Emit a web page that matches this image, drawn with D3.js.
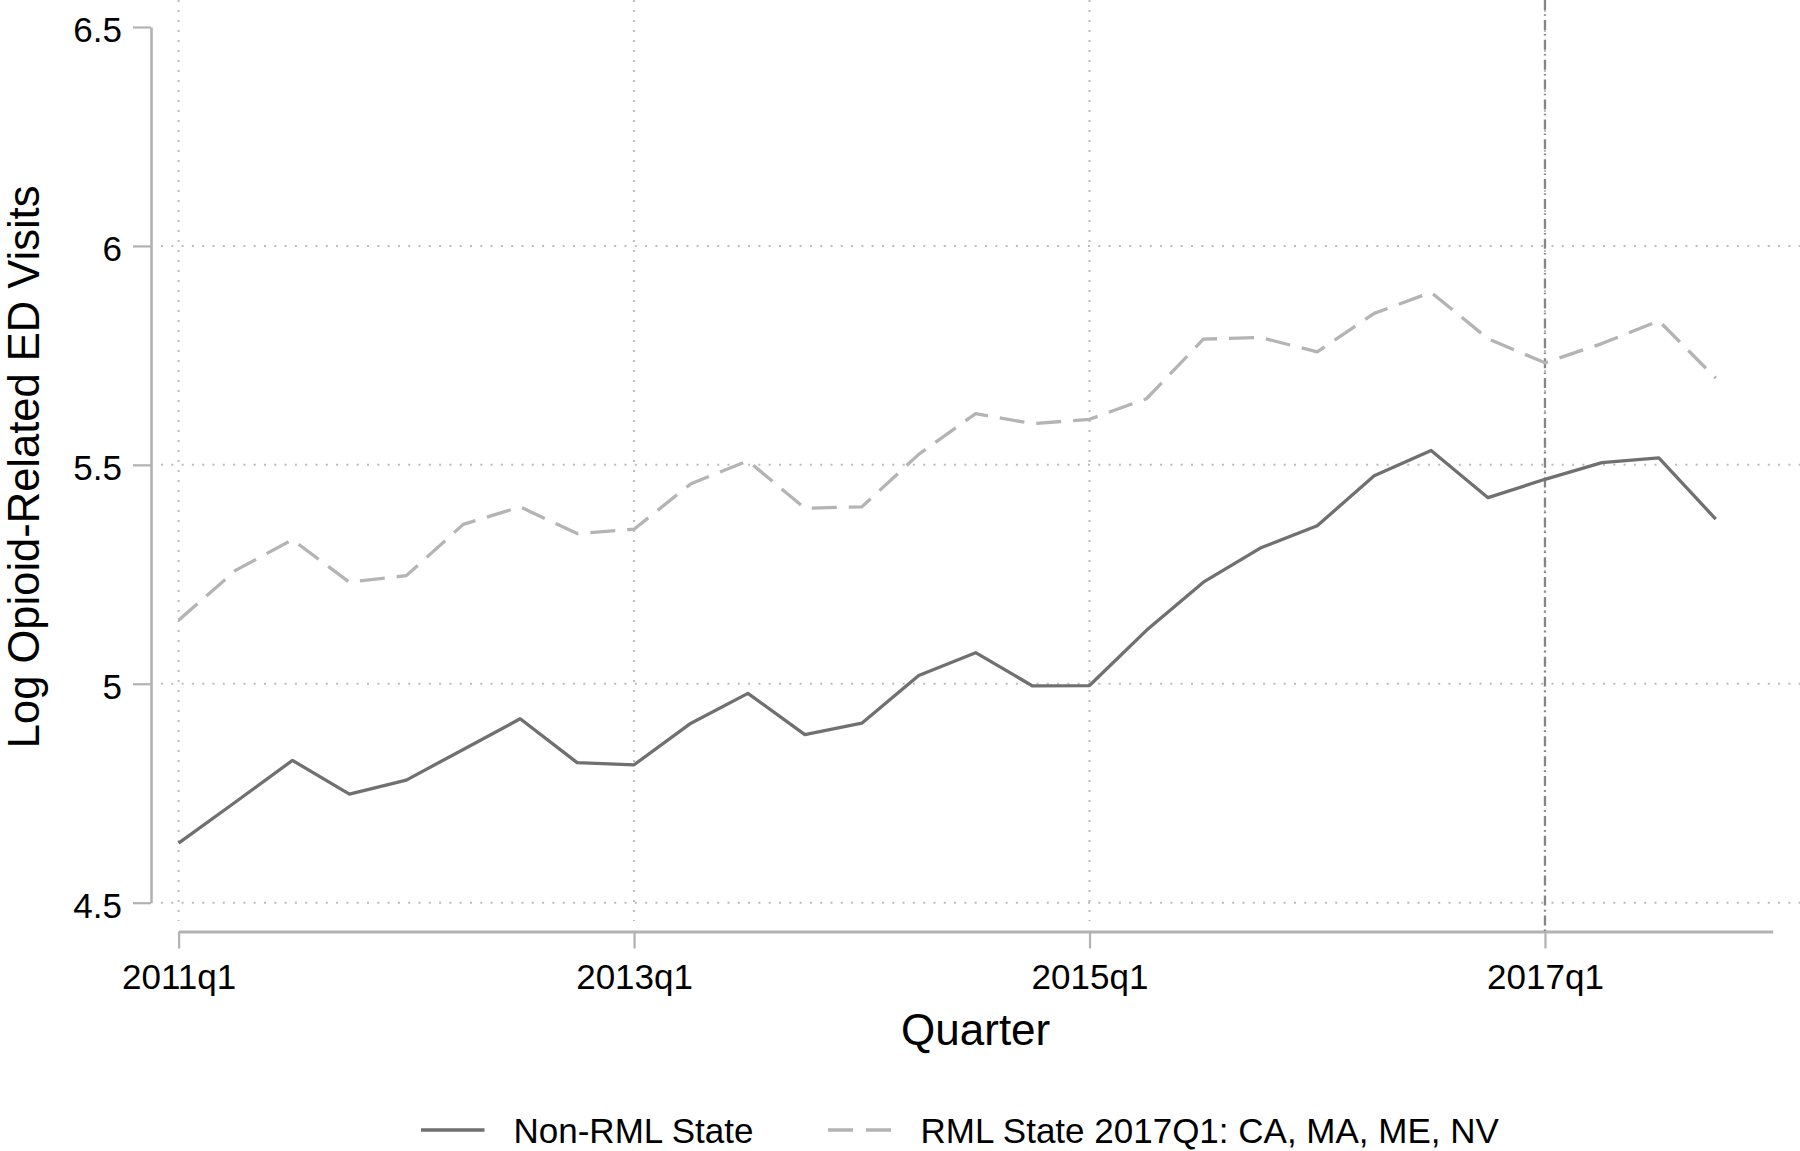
<!DOCTYPE html>
<html>
<head>
<meta charset="utf-8">
<script src="https://cdn.jsdelivr.net/npm/d3@7"></script>
<style>
  html, body { margin: 0; padding: 0; background: #fff; }
  svg { display: block; font-family: "Liberation Sans", Arial, Helvetica, sans-serif; }
</style>
</head>
<body>
<svg id="chart" width="1800" height="1151"></svg>
<script>
// ---- data ----
const quarters = [
  "2011q1","2011q2","2011q3","2011q4","2012q1","2012q2","2012q3","2012q4",
  "2013q1","2013q2","2013q3","2013q4","2014q1","2014q2","2014q3","2014q4",
  "2015q1","2015q2","2015q3","2015q4","2016q1","2016q2","2016q3","2016q4",
  "2017q1","2017q2","2017q3","2017q4","2018q1"
];
const nonRML = [4.636, 4.730, 4.825, 4.748, 4.780, 4.850, 4.920, 4.820,
                4.815, 4.910, 4.978, 4.884, 4.910, 5.019, 5.071, 4.995,
                4.996, 5.122, 5.232, 5.310, 5.361, 5.475, 5.533, 5.425,
                5.467, 5.505, 5.516, 5.376];
const rml2017 = [5.145, 5.259, 5.329, 5.232, 5.247, 5.364, 5.404, 5.343,
                 5.353, 5.457, 5.509, 5.401, 5.404, 5.524, 5.617, 5.594,
                 5.604, 5.651, 5.787, 5.791, 5.758, 5.846, 5.894, 5.788,
                 5.733, 5.777, 5.829, 5.698];
const xTicks = ["2011q1","2013q1","2015q1","2017q1"];
const yTicks = [4.5, 5, 5.5, 6, 6.5];
const yGrid = [4.5, 5, 5.5, 6];
const treatQuarter = "2017q1";
const seriesNames = ["Non-RML State", "RML State 2017Q1: CA, MA, ME, NV"];

// ---- layout ----
const svg = d3.select("#chart");
const axisX0 = 178.6, axisX1 = 1772.7;
const axisYTop = 27, axisYBot = 902.7;
const yAxisX = 151, xAxisY = 931.5;

const x = d3.scalePoint().domain(quarters).range([axisX0, axisX1]).padding(0);
const y = d3.scaleLinear().domain([4.5, 6.5]).range([axisYBot, axisYTop]);

const gridColor = "#bcbcbc";
const axisColor = "#b2b2b2";

// gridlines
svg.append("g").selectAll("line").data(yGrid).join("line")
  .attr("x1", 161).attr("x2", 1800)
  .attr("y1", d => y(d)).attr("y2", d => y(d))
  .attr("stroke", gridColor).attr("stroke-width", 2)
  .attr("stroke-dasharray", "2,8.3");
svg.append("g").selectAll("line").data(xTicks).join("line")
  .attr("x1", d => x(d)).attr("x2", d => x(d))
  .attr("y1", 0).attr("y2", 921)
  .attr("stroke", gridColor).attr("stroke-width", 2)
  .attr("stroke-dasharray", "2,8");

// axes
const yAxis = d3.axisLeft(y).tickValues(yTicks).tickFormat(d3.format("")).tickSizeInner(18).tickSizeOuter(0).tickPadding(11);
const gy = svg.append("g").attr("transform", `translate(${yAxisX},0)`).call(yAxis);
gy.select(".domain").attr("stroke", axisColor).attr("stroke-width", 2.6);
gy.selectAll(".tick line").attr("stroke", axisColor).attr("stroke-width", 2.2);
gy.selectAll(".tick text").attr("font-size", 35).attr("fill", "#000")
  .attr("font-family", "'Liberation Sans', Arial, sans-serif").attr("dy", "0.42em");

const xAxis = d3.axisBottom(x).tickValues(xTicks).tickSizeInner(17).tickSizeOuter(0).tickPadding(15.5);
const gx = svg.append("g").attr("transform", `translate(0,${xAxisY})`).call(xAxis);
gx.select(".domain").attr("stroke", axisColor).attr("stroke-width", 2.8);
gx.selectAll(".tick line").attr("stroke", axisColor).attr("stroke-width", 2.2);
gx.selectAll(".tick text").attr("font-size", 35).attr("fill", "#000")
  .attr("font-family", "'Liberation Sans', Arial, sans-serif");

// treatment line
svg.append("line")
  .attr("x1", x(treatQuarter)).attr("x2", x(treatQuarter))
  .attr("y1", 0).attr("y2", xAxisY)
  .attr("stroke", "#858585").attr("stroke-width", 2.3)
  .attr("stroke-dasharray", "10,4.2,1.5,4.2");

// series
const line = d3.line().x((d, i) => x(quarters[i])).y(d => y(d));
svg.append("path").datum(rml2017).attr("d", line)
  .attr("fill", "none").attr("stroke", "#b4b4b4").attr("stroke-width", 3.3)
  .attr("stroke-dasharray", "25,12").attr("stroke-linejoin", "round");
svg.append("path").datum(nonRML).attr("d", line)
  .attr("fill", "none").attr("stroke", "#707070").attr("stroke-width", 3.3)
  .attr("stroke-linejoin", "round");

// axis titles
svg.append("text")
  .attr("x", (axisX0 + axisX1) / 2).attr("y", 1045)
  .attr("text-anchor", "middle").attr("font-size", 44).attr("fill", "#000")
  .text("Quarter");
svg.append("text")
  .attr("transform", `translate(39,${(axisYTop + axisYBot) / 2 + 2}) rotate(-90)`)
  .attr("text-anchor", "middle").attr("font-size", 43.5).attr("fill", "#000")
  .text("Log Opioid-Related ED Visits");

// legend
const legend = svg.append("g");
const items = [
  { name: seriesNames[0], x: 421, color: "#707070", dash: null },
  { name: seriesNames[1], x: 828, color: "#b4b4b4", dash: "25,13" }
];
items.forEach(it => {
  legend.append("line")
    .attr("x1", it.x).attr("x2", it.x + 63.5).attr("y1", 1130).attr("y2", 1130)
    .attr("stroke", it.color).attr("stroke-width", 3.3)
    .attr("stroke-dasharray", it.dash);
  legend.append("text")
    .attr("x", it.x + 92.5).attr("y", 1143)
    .attr("font-size", 35).attr("fill", "#000")
    .text(it.name);
});
</script>
</body>
</html>
